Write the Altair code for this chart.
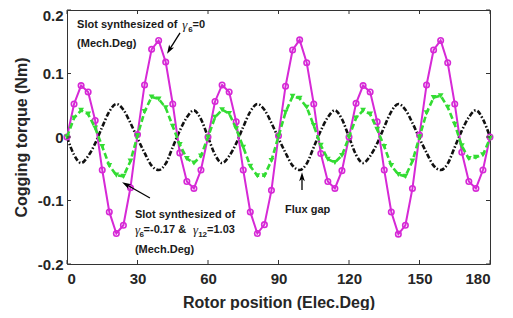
import altair as alt
import pandas as pd

# ---------------- data ----------------
x_deg = list(range(0, 181, 3))

magenta = [0.0, 0.052, 0.081, 0.071, 0.026, -0.052, -0.118, -0.152, -0.139, -0.080,
           0.004, 0.082, 0.138, 0.152, 0.118, 0.052, -0.025, -0.070, -0.081, -0.052,
           0.0, 0.056, 0.082, 0.071, 0.024, -0.052, -0.118, -0.152, -0.138, -0.084,
           0.002, 0.080, 0.137, 0.153, 0.117, 0.052, -0.026, -0.070, -0.081, -0.053,
           0.0, 0.053, 0.081, 0.071, 0.024, -0.052, -0.118, -0.153, -0.139, -0.081,
           0.003, 0.082, 0.137, 0.152, 0.117, 0.052, -0.024, -0.070, -0.081, -0.052,
           0.0]

green = [0.0, 0.030, 0.042, 0.036, 0.014, -0.015, -0.045, -0.060, -0.062, -0.038,
         0.002, 0.040, 0.063, 0.060, 0.046, 0.017, -0.012, -0.034, -0.041, -0.030,
         0.0, 0.031, 0.043, 0.037, 0.013, -0.016, -0.046, -0.061, -0.061, -0.037,
         0.001, 0.039, 0.064, 0.061, 0.047, 0.018, -0.013, -0.035, -0.040, -0.029,
         0.0, 0.030, 0.042, 0.036, 0.012, -0.015, -0.045, -0.059, -0.062, -0.038,
         0.000, 0.038, 0.062, 0.065, 0.047, 0.020, -0.014, -0.034, -0.032, -0.028,
         -0.002]

black = [0.0, -0.028, -0.041, -0.030, -0.010, 0.016, 0.040, 0.052, 0.043, 0.022,
         -0.002, -0.025, -0.045, -0.052, -0.042, -0.016, 0.010, 0.031, 0.042, 0.028,
         0.0, -0.028, -0.041, -0.030, -0.010, 0.016, 0.040, 0.052, 0.043, 0.022,
         -0.002, -0.025, -0.045, -0.052, -0.042, -0.016, 0.010, 0.031, 0.042, 0.028,
         0.0, -0.028, -0.041, -0.030, -0.010, 0.016, 0.040, 0.052, 0.043, 0.022,
         -0.002, -0.025, -0.045, -0.052, -0.042, -0.016, 0.010, 0.031, 0.042, 0.028,
         0.0]

x_ticks = [0, 30, 60, 90, 120, 150, 180]
y_ticks = [-0.2, -0.1, 0.0, 0.1, 0.2]

# ---------------- style ----------------
FONT = "Liberation Sans"
MAG = "#D629D6"
GRN = "#33DC33"
BLK = "#111111"
TXT = "#1a1a1a"

xs = alt.Scale(domain=[0, 180], nice=False, zero=False)
ys = alt.Scale(domain=[-0.2, 0.2], nice=False, zero=False)

X = alt.X("x:Q", scale=xs,
          axis=alt.Axis(values=x_ticks, title="Rotor position (Elec.Deg)", ticks=False,
                        domain=False, grid=False, labelPadding=7, titlePadding=8,
                        format="d"))
Y = alt.Y("y:Q", scale=ys,
          axis=alt.Axis(values=y_ticks, title="Cogging torque (Nm)", ticks=False,
                        domain=False, grid=False, labelPadding=4, titlePadding=8,
                        labelOffset={"condition": {"test": "datum.value > 0.15", "value": 5},
                                     "value": 0},
                        labelExpr="datum.value == 0 ? '0' : (datum.value < 0 ? '-' + format(-datum.value, '.1f') : format(datum.value, '.1f'))"))

df_m = pd.DataFrame({"x": x_deg, "y": magenta})
df_g = pd.DataFrame({"x": x_deg, "y": green})
df_b = pd.DataFrame({"x": x_deg, "y": black})

black_line = alt.Chart(df_b).mark_line(color=BLK, strokeWidth=2.6, strokeDash=[5, 2, 1.5, 2],
                                       interpolate="monotone").encode(x=X, y=Y)
mag_line = alt.Chart(df_m).mark_line(color=MAG, strokeWidth=2).encode(x=X, y=Y)
mag_pts = alt.Chart(df_m).mark_point(shape="circle", filled=False, size=30, strokeWidth=1.6,
                                     color=MAG, opacity=1).encode(x=X, y=Y)
grn_line = alt.Chart(df_g).mark_line(color=GRN, strokeWidth=2.6, strokeDash=[6, 3]).encode(x=X, y=Y)
grn_pts = alt.Chart(df_g).mark_point(shape="triangle-down", filled=True, size=34,
                                     color=GRN, opacity=1).encode(x=X, y=Y)

# inward ticks on all four sides of the box
tx = 1.7
ty = 0.0063
tick_rows = []
for v in x_ticks:
    tick_rows.append({"x": v, "x2": v, "y": -0.2, "y2": -0.2 + ty})
    tick_rows.append({"x": v, "x2": v, "y": 0.2, "y2": 0.2 - ty})
for v in y_ticks:
    tick_rows.append({"x": 0, "x2": tx, "y": v, "y2": v})
    tick_rows.append({"x": 180 - tx, "x2": 180, "y": v, "y2": v})
ticks = alt.Chart(pd.DataFrame(tick_rows)).mark_rule(color="#333333", strokeWidth=1).encode(
    x=X, x2="x2:Q", y=Y, y2="y2:Q")

# ---------------- annotations ----------------
bold_txt = pd.DataFrame([
    {"x": 4.3, "y": 0.177, "t": "Slot synthesized of"},
    {"x": 53.4, "y": 0.177, "t": "=0"},
    {"x": 4.3, "y": 0.147, "t": "(Mech.Deg)"},
    {"x": 28.9, "y": -0.123, "t": "Slot synthesized of"},
    {"x": 32.6, "y": -0.146, "t": "=-0.17 &"},
    {"x": 59.6, "y": -0.146, "t": "=1.03"},
    {"x": 28.9, "y": -0.178, "t": "(Mech.Deg)"},
    {"x": 92.8, "y": -0.115, "t": "Flux gap"},
])
gam_txt = pd.DataFrame([
    {"x": 49.0, "y": 0.177, "t": "γ"},
    {"x": 28.9, "y": -0.146, "t": "γ"},
    {"x": 53.6, "y": -0.146, "t": "γ"},
])
sub_txt = pd.DataFrame([
    {"x": 51.6, "y": 0.168, "t": "6"},
    {"x": 30.9, "y": -0.155, "t": "6"},
    {"x": 55.8, "y": -0.155, "t": "12"},
])

t_bold = alt.Chart(bold_txt).mark_text(font=FONT, fontWeight="bold", fontSize=11, align="left",
                                       baseline="middle", color=TXT).encode(x=X, y=Y, text="t:N")
t_gam = alt.Chart(gam_txt).mark_text(font="Liberation Serif", fontStyle="italic", fontSize=13,
                                     align="left", baseline="middle", color=TXT).encode(x=X, y=Y, text="t:N")
t_sub = alt.Chart(sub_txt).mark_text(font=FONT, fontWeight="bold", fontSize=8, align="left",
                                     baseline="middle", color=TXT).encode(x=X, y=Y, text="t:N")

shaft_df = pd.DataFrame([
    {"x": 48.1, "y": 0.164, "x2": 43.6, "y2": 0.1375},
    {"x": 35.3, "y": -0.096, "x2": 25.2, "y2": -0.0748},
    {"x": 100.0, "y": -0.0835, "x2": 100.0, "y2": -0.063},
])
head_df = pd.DataFrame([
    {"x": 43.6, "y": 0.1375, "a": 210},
    {"x": 25.2, "y": -0.0748, "a": 300},
    {"x": 100.0, "y": -0.063, "a": 0},
])
shafts = alt.Chart(shaft_df).mark_rule(color="black", strokeWidth=1.3).encode(
    x=X, y=Y, x2="x2:Q", y2="y2:Q")
heads = alt.Chart(head_df).mark_point(shape="M0,-1L0.6,0.9L0,0.4L-0.6,0.9Z", filled=True, size=90,
                                      color="black", opacity=1).encode(
    x=X, y=Y, angle=alt.Angle("a:Q", scale=None))

chart = alt.layer(
    black_line, mag_line, mag_pts, grn_line, grn_pts, ticks,
    shafts, heads, t_bold, t_gam, t_sub
).properties(
    width=423, height=254,
    autosize=alt.AutoSizeParams(type="none"),
    padding={"left": 59, "top": 2, "right": 15, "bottom": 46},
    background="white",
).configure_view(
    stroke="#333333", strokeWidth=1
).configure_axis(
    labelFont=FONT, labelFontWeight="bold", labelFontSize=15, labelColor="#262626",
    titleFont=FONT, titleFontWeight="bold", titleFontSize=16, titleColor="#262626",
)

chart.save("out.html", embed_options={"renderer": "svg", "actions": False})
